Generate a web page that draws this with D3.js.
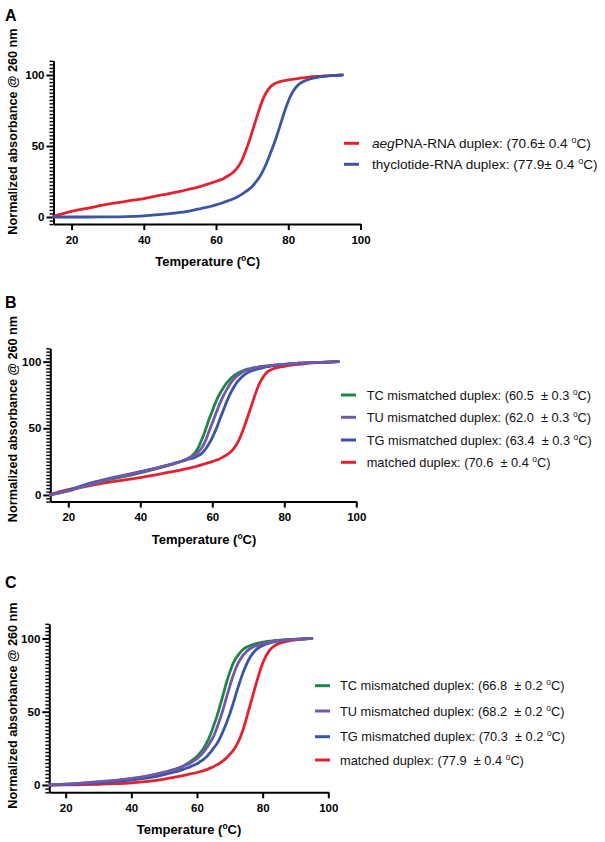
<!DOCTYPE html>
<html><head><meta charset="utf-8">
<script src="https://cdn.jsdelivr.net/npm/d3@7"></script>
<style>
body{margin:0;background:#fff}
svg{display:block}
text{font-family:"Liberation Sans",Arial,Helvetica,sans-serif;white-space:pre}
</style>
</head><body>
<svg id="chart" width="605" height="842"></svg>
<script>
// ---------- DATA ----------
const temperature = [15,20,25,30,35,40,45,50,53,55,56,57,58,59,60,61,62,63,64,65,66,67,68,69,70,71,72,73,74,75,76,77,78,79,80,81,82,83,84,86,88,90,92,95];

// Panel A
const aegPNA_RNA = [0.5,4,6.5,9,11,13,15.5,18,19.8,21,21.8,22.6,23.4,24.2,25,26,27,28.5,30,32,35,39,45,52,60,68,76,83,88,91.5,93.5,94.7,95.5,96,96.5,97,97.3,97.7,98,98.6,99,99.3,99.6,100];
const thyclotide_RNA = [0,0,0,0.1,0.3,0.8,1.8,3.2,4.4,5.5,6,6.6,7.2,7.8,8.5,9.3,10.2,11.1,12,13,14.3,15.8,17.5,19.3,21.5,24.5,28,32.5,38,44.5,51,58.5,66.5,74.5,81.5,87,91,93.6,95.2,97.2,98.4,99,99.5,100];

// Panel B (aegPNA)
const B_TC = [0,3,7,10.5,13.5,16.5,20,24,27,31,35,41,48,56,63,70,75.5,80,84,87,89.5,91.2,92.5,93.6,94.5,95.1,95.6,96,96.4,96.7,97,97.3,97.6,97.8,98,98.2,98.4,98.6,98.8,99.1,99.3,99.5,99.7,100];
const B_TU = [0,3,7,10.8,14,17,20.5,24,27,29.5,32,35,40,47,54,61,68,74,79,83.5,87,89.5,91.5,93,94,94.8,95.4,96,96.4,96.7,97,97.3,97.6,97.8,98,98.2,98.4,98.6,98.8,99.1,99.3,99.5,99.7,100];
const B_TG = [0,3.5,8,11.5,14.5,17.5,20.5,24,26.5,28,29.3,31,34,38,43,49,56,63,70,76,81,85,88,90.3,92,93.2,94,94.8,95.4,96,96.5,96.9,97.3,97.6,98,98.2,98.4,98.6,98.8,99.1,99.3,99.5,99.7,100];
const B_matched = aegPNA_RNA;

// Panel C (thyclotide)
const C_TC = [0,0.5,1.2,2,3,4.2,6,8.5,10.5,12,13.2,14.5,16,17.7,19.5,22,25,29,34,40,46.5,54,62,70,77,83,87,90,92.5,94,95,95.8,96.5,97,97.5,97.8,98.1,98.4,98.7,99,99.3,99.5,99.7,100];
const C_TU = [0,0.5,1.3,2.2,3.2,4.5,6.2,8.7,10.5,12,13,14,15,16.5,18,20,22.5,25.5,29,33,38.5,45,52,60,67.5,74.5,80.5,85,88.5,91,92.8,94,95,95.8,96.5,97,97.5,97.9,98.2,98.7,99.1,99.4,99.7,100];
const C_TG = [0,0.3,0.8,1.5,2.3,3.3,4.8,7,8.8,10,10.8,11.6,12.5,13.5,14.5,16,17.5,19.5,22,25,28,32,37,42.5,48.5,55.5,63,70,76.5,82,86.5,89.8,92.3,94,95.2,96.1,96.8,97.4,97.9,98.5,99,99.3,99.6,100];
const C_matched = [0,0,0.2,0.5,0.9,1.5,2.5,4,5.2,6,6.5,7,7.5,8,8.5,9.2,9.8,10.5,11.5,12.5,13.7,15,16.7,18.5,21,23.5,27,31.5,37.5,45,53,61,69,76.5,83,88,91.5,94,95.5,97.3,98.3,99,99.5,100];

const xTicks = [20,40,60,80,100];
const yTicks = [0,50,100];

const legendA = [
  {name:"PNA-RNA duplex", italicPrefix:"aeg", tm:"70.6", sep:"", err:"0.4"},
  {name:"thyclotide-RNA duplex", italicPrefix:"", tm:"77.9", sep:"", err:"0.4"}
];
const legendB = [
  {name:"TC mismatched duplex", italicPrefix:"", tm:"60.5", sep:"  ", err:"0.3"},
  {name:"TU mismatched duplex", italicPrefix:"", tm:"62.0", sep:"  ", err:"0.3"},
  {name:"TG mismatched duplex", italicPrefix:"", tm:"63.4", sep:"  ", err:"0.3"},
  {name:"matched duplex", italicPrefix:"", tm:"70.6", sep:"  ", err:"0.4"}
];
const legendC = [
  {name:"TC mismatched duplex", italicPrefix:"", tm:"66.8", sep:"  ", err:"0.2"},
  {name:"TU mismatched duplex", italicPrefix:"", tm:"68.2", sep:"  ", err:"0.2"},
  {name:"TG mismatched duplex", italicPrefix:"", tm:"70.3", sep:"  ", err:"0.2"},
  {name:"matched duplex", italicPrefix:"", tm:"77.9", sep:"  ", err:"0.4"}
];

// ---------- STYLE ----------
const RED = "#e2222f", BLUE = "#3a55a4", GREEN = "#1e8646", PURPLE = "#7458a8";

const panels = [
  {letter:"A", letterY:20.7,
   xr:[53.5,360.5], yr:[224.1,60.8], ytitleY:131.5, xtitleX:207.7,
   series:[{v:aegPNA_RNA,c:RED},{v:thyclotide_RNA,c:BLUE}],
   legend:legendA, legendColors:[RED,BLUE], lx:344, tx:372, ly:[143.3,164.3], lfs:13.6},
  {letter:"B", letterY:308.3,
   xr:[50.3,356.3], yr:[501.6,348.3], ytitleY:419, xtitleX:204,
   series:[{v:B_matched,c:RED},{v:B_TC,c:GREEN},{v:B_TG,c:BLUE},{v:B_TU,c:PURPLE}],
   legend:legendB, legendColors:[GREEN,PURPLE,BLUE,RED], lx:341, tx:366.7, ly:[395,417.3,440,462.3], lfs:12.8},
  {letter:"C", letterY:588.3,
   xr:[49.3,328.3], yr:[792.3,623.8], ytitleY:705.5, xtitleX:189,
   series:[{v:C_matched,c:RED},{v:C_TC,c:GREEN},{v:C_TG,c:BLUE},{v:C_TU,c:PURPLE}],
   legend:legendC, legendColors:[GREEN,PURPLE,BLUE,RED], lx:315, tx:340, ly:[685.7,711,736.7,760], lfs:12.8}
];

const svg = d3.select("#chart");

panels.forEach(p => {
  const x = d3.scaleLinear().domain([15,100]).range(p.xr);
  const y = d3.scaleLinear().domain([-5,110]).range(p.yr);
  const g = svg.append("g");

  // panel letter
  g.append("text").attr("x",5).attr("y",p.letterY)
    .attr("font-size",16).attr("font-weight","bold").text(p.letter);

  // y axis minor ticks
  const minor = d3.range(-5,110.01,2.5).filter(v => !yTicks.includes(v));
  const yMinor = g.append("g").attr("transform",`translate(${p.xr[0]},0)`)
    .call(d3.axisLeft(y).tickValues(minor).tickSize(4).tickSizeOuter(0).tickFormat(""));
  yMinor.select(".domain").remove();
  yMinor.selectAll("line").attr("stroke","#000").attr("stroke-width",1.4);

  // y axis major
  const yAx = g.append("g").attr("transform",`translate(${p.xr[0]},0)`)
    .call(d3.axisLeft(y).tickValues(yTicks).tickSize(7).tickSizeOuter(0).tickPadding(2));
  yAx.select(".domain").attr("stroke","#000").attr("stroke-width",2);
  yAx.selectAll("line").attr("stroke","#000").attr("stroke-width",2);
  yAx.selectAll("text").attr("font-size",11.5).attr("font-weight","bold")
    .attr("font-family","'Liberation Sans',Arial,sans-serif").attr("fill","#000");

  // x axis
  const xAx = g.append("g").attr("transform",`translate(0,${p.yr[0]})`)
    .call(d3.axisBottom(x).tickValues(xTicks).tickSize(6).tickSizeOuter(0).tickPadding(5.5));
  xAx.select(".domain").attr("stroke","#000").attr("stroke-width",2);
  xAx.selectAll("line").attr("stroke","#000").attr("stroke-width",2);
  xAx.selectAll("text").attr("font-size",11.5).attr("font-weight","bold")
    .attr("font-family","'Liberation Sans',Arial,sans-serif").attr("fill","#000");

  // curves
  const line = d3.line().x((d,i)=>x(temperature[i])).y(d=>y(d)).curve(d3.curveMonotoneX);
  p.series.forEach(s => {
    g.append("path").datum(s.v).attr("d",line)
      .attr("fill","none").attr("stroke",s.c).attr("stroke-width",2.8)
      .attr("stroke-linecap","round").attr("stroke-linejoin","round");
  });

  // y title
  g.append("text")
    .attr("transform",`translate(12.5,${p.ytitleY}) rotate(-90)`)
    .attr("text-anchor","middle").attr("dominant-baseline","central")
    .attr("font-size",12.7).attr("font-weight","bold")
    .text("Normalized absorbance @ 260 nm");

  // x title
  const xt = g.append("text").attr("x",p.xtitleX).attr("y",p.yr[0]+42)
    .attr("text-anchor","middle").attr("font-size",13).attr("font-weight","bold");
  xt.append("tspan").text("Temperature (");
  xt.append("tspan").attr("font-size",8.5).attr("dy",-5).text("o");
  xt.append("tspan").attr("dy",5).text("C)");

  // legend
  p.legend.forEach((L,i) => {
    const yy = p.ly[i];
    g.append("line").attr("x1",p.lx).attr("x2",p.lx+15).attr("y1",yy).attr("y2",yy)
      .attr("stroke",p.legendColors[i]).attr("stroke-width",3);
    const t = g.append("text").attr("x",p.tx).attr("y",yy+4.5).attr("font-size",p.lfs).attr("fill","#111");
    if (L.italicPrefix) t.append("tspan").attr("font-style","italic").text(L.italicPrefix);
    t.append("tspan").text(`${L.name}: (${L.tm}${L.sep}\u00b1 ${L.err} `);
    t.append("tspan").attr("font-size",p.lfs*0.66).attr("dy",-5).text("o");
    t.append("tspan").attr("dy",5).text("C)");
  });
});
</script>
</body></html>
